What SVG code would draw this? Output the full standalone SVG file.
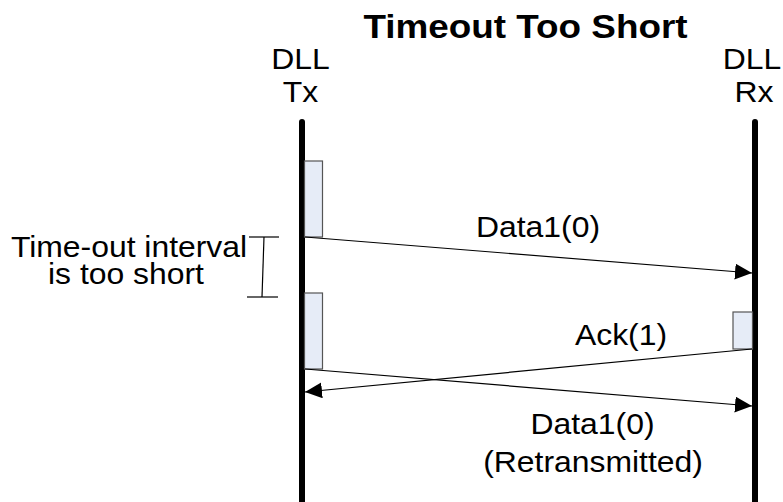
<svg xmlns="http://www.w3.org/2000/svg" width="783" height="502" viewBox="0 0 783 502">
<defs>
<style>
text{font-family:"Liberation Sans",Arial,sans-serif;fill:#000}
.lbl{font-size:29px;text-anchor:middle}
.title{font-size:33.5px;font-weight:bold;text-anchor:middle}
.life{stroke:#000;stroke-width:6;stroke-linecap:round}
.act{fill:#e6ecf7;stroke:#555;stroke-width:1.2}
.msg{stroke:#000;stroke-width:1.2;fill:none}
.br{stroke:#000;stroke-width:1.2}
</style>
<marker id="ah" viewBox="0 0 17 16" refX="17" refY="8" markerWidth="17" markerHeight="16" markerUnits="userSpaceOnUse" orient="auto">
<path d="M0,0 L17,8 L0,16 Z" fill="#000"/>
</marker>
</defs>
<rect width="783" height="502" fill="#fff"/>
<text class="title" transform="translate(525.5,38) scale(1.1,1)">Timeout Too Short</text>
<g id="tx">
<text class="lbl" transform="translate(300.5,69) scale(1.1,1)">DLL</text>
<text class="lbl" transform="translate(300.5,102) scale(1.1,1)">Tx</text>
<line class="life" x1="302" y1="122" x2="302" y2="505"/>
<rect class="act" x="304.5" y="161" width="18" height="76"/>
<rect class="act" x="304.5" y="293" width="18" height="76"/>
</g>
<g id="rx">
<text class="lbl" transform="translate(752,69) scale(1.1,1)">DLL</text>
<text class="lbl" transform="translate(754,102) scale(1.1,1)">Rx</text>
<line class="life" x1="755" y1="122" x2="755" y2="505"/>
<rect class="act" x="733" y="312" width="19.5" height="37"/>
</g>
<g id="timeout">
<text class="lbl" transform="translate(129,257) scale(1.1,1)">Time-out interval</text>
<text class="lbl" transform="translate(126,284) scale(1.1,1)">is too short</text>
<line class="br" x1="249" y1="237" x2="279" y2="237"/>
<line class="br" x1="247" y1="297" x2="278" y2="297"/>
<line class="br" x1="264" y1="237" x2="262" y2="297"/>
</g>
<g id="connectors">
<line class="msg" x1="305" y1="237" x2="752" y2="273" marker-end="url(#ah)"/>
<line class="msg" x1="752" y1="349" x2="305" y2="392" marker-end="url(#ah)"/>
<line class="msg" x1="305" y1="369" x2="752" y2="406" marker-end="url(#ah)"/>
</g>
<g id="labels">
<text class="lbl" transform="translate(538,237) scale(1.1,1)">Data1(0)</text>
<text class="lbl" transform="translate(621,345) scale(1.1,1)">Ack(1)</text>
<text class="lbl" transform="translate(592.5,434) scale(1.1,1)">Data1(0)</text>
<text class="lbl" transform="translate(593,472) scale(1.1,1)">(Retransmitted)</text>
</g>
</svg>
